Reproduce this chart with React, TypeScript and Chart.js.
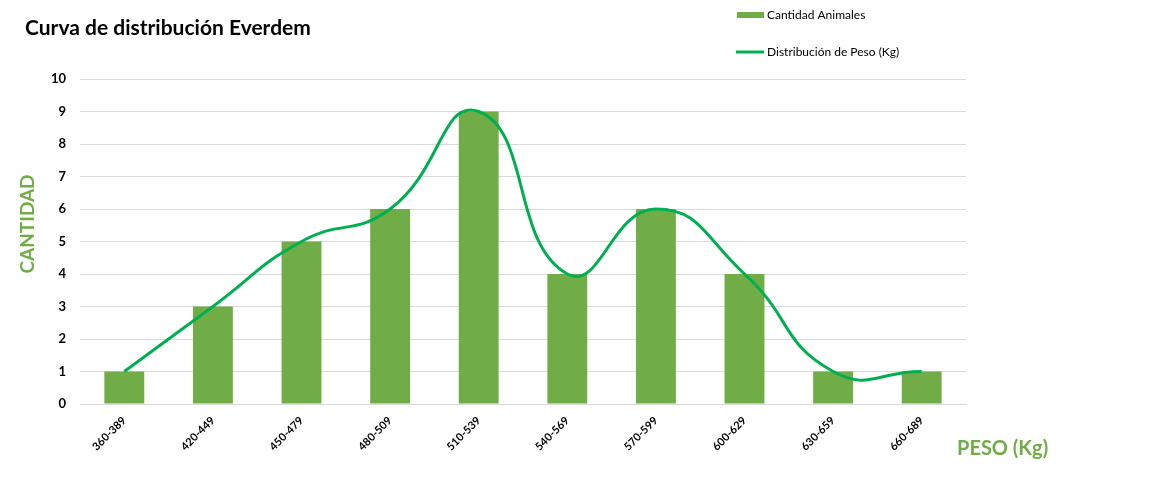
import React, { useEffect, useRef } from "react";
import { Chart, registerables } from "chart.js";

Chart.register(...registerables);

const categories = ["360-389", "420-449", "450-479", "480-509", "510-539", "540-569", "570-599", "600-629", "630-659", "660-689"];
const animalCounts = [1, 3, 5, 6, 9, 4, 6, 4, 1, 1];
const weightDistribution = [1, 3, 5, 6, 9, 4, 6, 4, 1, 1];
const yTicks = [0, 1, 2, 3, 4, 5, 6, 7, 8, 9, 10];

const chartTitle = "Curva de distribución Everdem";
const yTitle = "CANTIDAD";
const xTitle = "PESO (Kg)";
const barLabel = "Cantidad Animales";
const lineLabel = "Distribución de Peso (Kg)";

const FONT = "Lato";
const BAR_COLOR = "#70AD47";
const LINE_COLOR = "#00B050";

// Draws the title, axis titles and legend at fixed spots on the canvas.
const overlayText = {
  id: "overlayText",
  afterDraw(chart: Chart) {
    const ctx = chart.ctx;
    ctx.save();

    ctx.fillStyle = "#000000";
    ctx.font = `bold 21px ${FONT}`;
    ctx.textAlign = "left";
    ctx.textBaseline = "alphabetic";
    ctx.fillText(chartTitle, 25, 35);

    ctx.fillStyle = BAR_COLOR;
    ctx.font = `bold 20px ${FONT}`;
    ctx.textAlign = "left";
    ctx.textBaseline = "middle";
    ctx.fillText(xTitle, 957, 449);

    ctx.save();
    ctx.font = `bold 19px ${FONT}`;
    ctx.translate(28, 224);
    ctx.rotate(-Math.PI / 2);
    ctx.textAlign = "center";
    ctx.fillText(yTitle, 0, 0);
    ctx.restore();

    // legend
    ctx.fillStyle = BAR_COLOR;
    ctx.fillRect(737, 12, 27, 6);
    ctx.strokeStyle = LINE_COLOR;
    ctx.lineWidth = 3;
    ctx.beginPath();
    ctx.moveTo(736, 52);
    ctx.lineTo(764, 52);
    ctx.stroke();

    ctx.fillStyle = "#000000";
    ctx.font = `12px ${FONT}`;
    ctx.textAlign = "left";
    ctx.textBaseline = "middle";
    ctx.fillText(barLabel, 767, 15);
    ctx.fillText(lineLabel, 767, 52);

    ctx.restore();
  },
};

export default function App() {
  const canvasRef = useRef<HTMLCanvasElement | null>(null);

  useEffect(() => {
    if (!canvasRef.current) return;
    const chart = new Chart(canvasRef.current, {
      type: "bar",
      data: {
        labels: categories,
        datasets: [
          {
            type: "line",
            label: lineLabel,
            data: weightDistribution,
            borderColor: LINE_COLOR,
            backgroundColor: LINE_COLOR,
            borderWidth: 3,
            pointRadius: 0,
            tension: 0.5,
            order: 0,
          },
          {
            type: "bar",
            label: barLabel,
            data: animalCounts,
            backgroundColor: BAR_COLOR,
            barPercentage: 0.45,
            categoryPercentage: 1,
            order: 1,
          },
        ],
      },
      options: {
        animation: false,
        responsive: false,
        maintainAspectRatio: false,
        layout: { padding: { left: 0, right: 186, top: 79, bottom: 0 } },
        plugins: {
          legend: { display: false },
          title: { display: false },
          tooltip: { enabled: false },
        },
        scales: {
          x: {
            afterFit(scale: any) {
              scale.height = 92;
            },
            grid: { display: false, drawTicks: false },
            border: { display: true, color: "#d9d9d9", width: 1 },
            ticks: {
              minRotation: 45,
              maxRotation: 45,
              padding: 10,
              color: "#000000",
              font: { family: FONT, size: 11, weight: "bold" },
            },
          },
          y: {
            min: 0,
            max: 10,
            afterFit(scale: any) {
              scale.width = 80;
            },
            afterBuildTicks(scale: any) {
              scale.ticks = yTicks.map((v) => ({ value: v }));
            },
            grid: { color: "#d9d9d9", drawTicks: false },
            border: { display: false },
            ticks: {
              padding: 14,
              color: "#000000",
              font: { family: FONT, size: 13, weight: "bold" },
            },
          },
        },
      },
      plugins: [overlayText],
    });
    return () => chart.destroy();
  }, []);

  return (
    <div style={{ position: "fixed", left: 0, top: 0, width: 1152, height: 496, background: "#ffffff" }}>
      <canvas ref={canvasRef} width={1152} height={496} style={{ width: 1152, height: 496 }} />
    </div>
  );
}
